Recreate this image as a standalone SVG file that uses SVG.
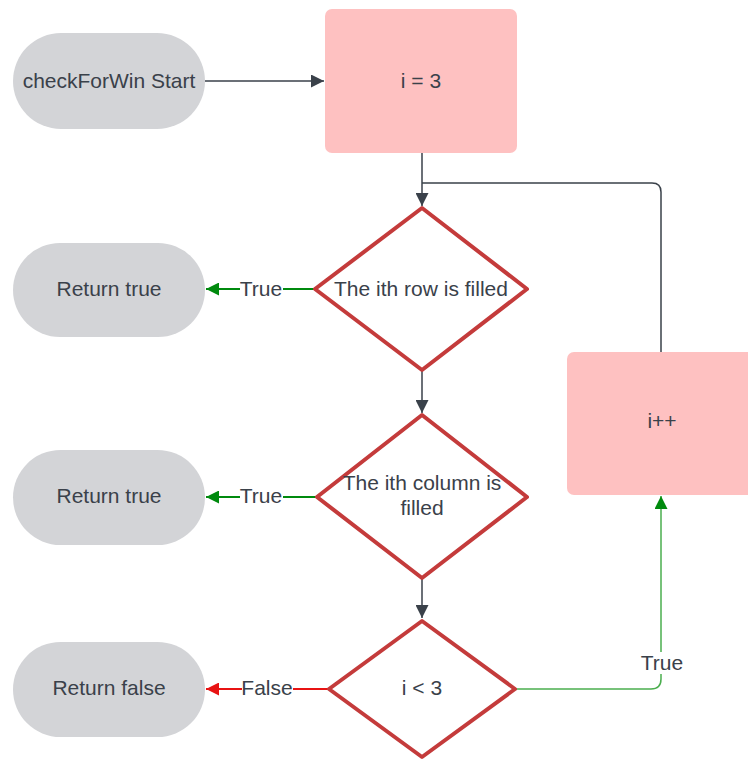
<svg xmlns="http://www.w3.org/2000/svg" width="748" height="761" viewBox="0 0 748 761">
<defs>
<style>
.pill{fill:#d3d4d7}
.box{fill:#fec1c1}
.dia{fill:#fff;stroke:#c43b3b;stroke-width:4;stroke-linejoin:round}
.t{font-family:"Liberation Sans",Arial,sans-serif;font-size:21px;fill:#3a414a;text-anchor:middle;dominant-baseline:central}
.ln{fill:none;stroke:#3a414a;stroke-width:1.5}
.gl{fill:none;stroke:#008a0e;stroke-width:2}
.gl2{fill:none;stroke:#4bae4f;stroke-width:1.5}
.rl{fill:none;stroke:#e81313;stroke-width:2}
.lb{font-family:"Liberation Sans",Arial,sans-serif;font-size:21px;fill:#3a414a;text-anchor:middle;dominant-baseline:central}
</style>
<marker id="ad" viewBox="0 0 10 10" refX="10" refY="5" markerWidth="13" markerHeight="13" markerUnits="userSpaceOnUse" orient="auto"><path d="M0,0L10,5L0,10z" fill="#3a414a"/></marker>
<marker id="ag" viewBox="0 0 10 10" refX="10" refY="5" markerWidth="13" markerHeight="13" markerUnits="userSpaceOnUse" orient="auto"><path d="M0,0L10,5L0,10z" fill="#008a0e"/></marker>
<marker id="ar" viewBox="0 0 10 10" refX="10" refY="5" markerWidth="13" markerHeight="13" markerUnits="userSpaceOnUse" orient="auto"><path d="M0,0L10,5L0,10z" fill="#e81313"/></marker>
</defs>
<rect width="748" height="761" fill="#fff"/>
<g id="connectors">
<path class="ln" d="M205,81H324" marker-end="url(#ad)"/>
<path class="ln" d="M422,153V206" marker-end="url(#ad)"/>
<path class="ln" d="M661,352V192Q661,183 652,183H422"/>
<path class="ln" d="M422,371V413" marker-end="url(#ad)"/>
<path class="ln" d="M422,579V618" marker-end="url(#ad)"/>
<path class="gl" d="M315,289H206" marker-end="url(#ag)"/>
<path class="gl" d="M317,497H206" marker-end="url(#ag)"/>
<path class="rl" d="M329,689H206" marker-end="url(#ar)"/>
<path class="gl2" d="M515,689H651Q661,689 661,679V496" marker-end="url(#ag)"/>
<rect x="240" y="278" width="43" height="22" fill="#fff"/>
<text class="lb" x="261" y="288">True</text>
<rect x="240" y="486" width="43" height="22" fill="#fff"/>
<text class="lb" x="261" y="495">True</text>
<rect x="242" y="678" width="51" height="22" fill="#fff"/>
<text class="lb" x="267" y="687">False</text>
<rect x="640" y="652" width="44" height="22" fill="#fff"/>
<text class="lb" x="662" y="662">True</text>
</g>
<g id="start"><rect class="pill" x="13" y="33" width="192" height="96" rx="48"/><text class="t" x="109" y="80">checkForWin Start</text></g>
<g id="init"><rect class="box" x="325" y="9" width="192" height="144" rx="7"/><text class="t" x="421" y="80">i = 3</text></g>
<g id="row"><polygon class="dia" points="422,208 527,289 422,370 315,289"/><text class="t" x="421" y="288">The ith row is filled</text></g>
<g id="rettrue1"><rect class="pill" x="13" y="243" width="192" height="94" rx="47"/><text class="t" x="109" y="288">Return true</text></g>
<g id="col"><polygon class="dia" points="422,415 527,497 422,578 317,497"/><text class="t" x="422" y="482">The ith column is</text><text class="t" x="422" y="507">filled</text></g>
<g id="rettrue2"><rect class="pill" x="13" y="450" width="192" height="95" rx="47.5"/><text class="t" x="109" y="495">Return true</text></g>
<g id="cond"><polygon class="dia" points="422,621 515,689 422,757 329,689"/><text class="t" x="422" y="687">i &lt; 3</text></g>
<g id="retfalse"><rect class="pill" x="13" y="642" width="192" height="95" rx="47.5"/><text class="t" x="109" y="687">Return false</text></g>
<g id="inc"><rect class="box" x="567" y="352" width="190" height="143" rx="7"/><text class="t" x="662" y="420">i++</text></g>
</svg>
